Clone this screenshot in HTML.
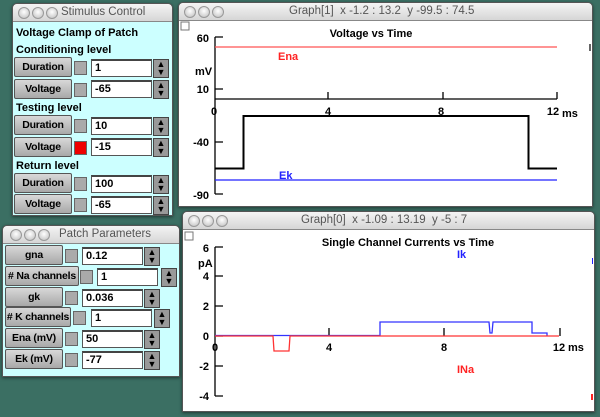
<!DOCTYPE html>
<html><head><meta charset="utf-8"><style>
body{margin:0;width:600px;height:417px;background:#3b6f63;position:relative;overflow:hidden;font-family:"Liberation Sans",sans-serif}
.win{position:absolute;background:#fff;border:1px solid #555;border-radius:5px 5px 0 0;box-shadow:0 1px 3px rgba(0,0,0,.5)}
.tb{position:absolute;left:0;right:0;top:0;height:17px;background:linear-gradient(#f4f4f4,#d6d6d6);border-bottom:1px solid #888;border-radius:5px 5px 0 0;font-size:11.5px;color:#555;line-height:17px;white-space:pre}
.dot{position:absolute;top:3px;width:10px;height:10px;border-radius:50%;background:radial-gradient(circle at 50% 40%,#fff,#bbb);border:1px solid #999}
.panel{position:absolute;left:0;right:0;bottom:0;background:#ccffff}
.a{position:absolute;font-size:11px;font-weight:bold;color:#000;white-space:nowrap}
.btn{position:absolute;height:18px;background:linear-gradient(#d8d8d8,#a8a8a8);border:1px solid #555;border-radius:2px;font-size:10.5px;font-weight:bold;text-align:center;line-height:18px;white-space:nowrap;overflow:hidden;letter-spacing:-0.2px}
.sq{position:absolute;width:11px;height:12px;background:#aaa;border:1px solid #666}
.fld{position:absolute;background:#fff;border:1px solid #555;border-top:2px solid #444;font-size:11px;font-weight:bold;line-height:15px;padding-left:3px;box-sizing:border-box;height:18px}
.sp{position:absolute;width:14px;height:17px;background:#999;border:1px solid #444;font-size:9px;text-align:center;line-height:8px}
</style></head><body>

<!-- Stimulus Control -->
<div class="win" style="left:12px;top:3px;width:159px;height:211px;">
<div class="tb"><span class="dot" style="left:5px"></span><span class="dot" style="left:19px"></span><span class="dot" style="left:33px"></span><span style="position:absolute;left:48px">Stimulus Control</span></div>
<div class="panel" style="top:18px">
<div class="a" style="left:3px;top:5px">Voltage Clamp of Patch</div>
<div class="a" style="left:3px;top:22px">Conditioning level</div>
<div class="a" style="left:3px;top:80px">Testing level</div>
<div class="a" style="left:3px;top:138px">Return level</div>
</div>
</div>

<!-- Patch Parameters -->
<div class="win" style="left:2px;top:225px;width:176px;height:150px;">
<div class="tb"><span class="dot" style="left:7px"></span><span class="dot" style="left:21px"></span><span class="dot" style="left:35px"></span><span style="position:absolute;left:56px">Patch Parameters</span></div>
<div class="panel" style="top:18px"></div>
</div>

<!-- Graph[1] -->
<div class="win" style="left:178px;top:2px;width:413px;height:203px;">
<div class="tb"><span class="dot" style="left:5px"></span><span class="dot" style="left:19px"></span><span class="dot" style="left:33px"></span><span style="position:absolute;left:110px">Graph[1]  x -1.2 : 13.2  y -99.5 : 74.5</span></div>
</div>
<!-- Graph[0] -->
<div class="win" style="left:182px;top:211px;width:411px;height:199px;">
<div class="tb"><span class="dot" style="left:5px"></span><span class="dot" style="left:19px"></span><span class="dot" style="left:33px"></span><span style="position:absolute;left:118px">Graph[0]  x -1.09 : 13.19  y -5 : 7</span></div>
</div>

<svg width="600" height="417" style="position:absolute;left:0;top:0" font-family="Liberation Sans,sans-serif" font-weight="bold" font-size="11">
<!-- Graph1 -->
<rect x="181" y="22" width="8" height="8" fill="#fff" stroke="#777"/>
<text x="371" y="37" text-anchor="middle">Voltage vs Time</text>
<g stroke="#000" stroke-width="1.3" fill="none">
<path d="M215,37 V194 M215,37 H223 M215,89 H223 M215,142 H223 M215,194 H223"/>
<path d="M215,99 H557 M328,92 V99 M443,92 V99 M557,92 V99"/>
</g>
<line x1="215" y1="47" x2="557" y2="47" stroke="#f55" stroke-width="1.3"/>
<line x1="215" y1="180" x2="557" y2="180" stroke="#22f" stroke-width="1.3"/>
<path d="M215,168.5 H243.5 V116 H528.5 V168.5 H557" stroke="#000" stroke-width="2" fill="none"/>
<g text-anchor="end"><text x="209" y="42">60</text><text x="209" y="93">10</text><text x="209" y="146">-40</text><text x="209" y="199">-90</text></g>
<text x="195" y="75">mV</text>
<g text-anchor="middle"><text x="214" y="115">0</text><text x="328" y="115">4</text><text x="441" y="115">8</text><text x="553" y="115">12</text></g>
<text x="562" y="117">ms</text>
<text x="278" y="60" fill="#f22">Ena</text>
<text x="279" y="179" fill="#22f">Ek</text>
<rect x="589" y="44" width="2" height="7" fill="#666"/>
<!-- Graph0 -->
<rect x="185" y="232" width="8" height="8" fill="#fff" stroke="#777"/>
<text x="408" y="246" text-anchor="middle">Single Channel Currents vs Time</text>
<g stroke="#000" stroke-width="1.3" fill="none">
<path d="M215,247 V396 M215,247 H223 M215,276 H223 M215,306 H223 M215,336 H223 M215,366 H223 M215,396 H223"/>
<path d="M329,328 V336 M444,328 V336 M560,328 V336"/>
</g>
<path d="M215,335.5 H380 V322 H489 L490,333 H492 L493,322 H532 V333 H547 V335.5" stroke="#33f" stroke-width="1.3" fill="none"/>
<path d="M215,336 H273 L274,351 H289 L290,336 H559" stroke="#f33" stroke-width="1.3" fill="none"/>
<g text-anchor="end"><text x="209" y="252">6</text><text x="209" y="280">4</text><text x="209" y="310">2</text><text x="209" y="340">0</text><text x="209" y="370">-2</text><text x="209" y="400">-4</text></g>
<text x="198" y="267">pA</text>
<g text-anchor="middle"><text x="215" y="351">0</text><text x="329" y="351">4</text><text x="444" y="351">8</text><text x="559" y="351">12</text></g>
<text x="568" y="351">ms</text>
<text x="457" y="258" fill="#22f">Ik</text>
<text x="457" y="373" fill="#f22">INa</text>
<rect x="592" y="258" width="1" height="6" fill="#22f"/>
<rect x="591" y="394" width="2" height="6" fill="#f22"/>
</svg>

<!-- Stimulus controls -->
<div class="btn" style="left:14px;top:57px;width:56px">Duration</div><div class="sq" style="left:74px;top:61px"></div><div class="fld" style="left:91px;top:59px;width:61px">1</div><div class="sp" style="left:153px;top:59px">▲<br>▼</div>
<div class="btn" style="left:14px;top:79px;width:56px">Voltage</div><div class="sq" style="left:74px;top:83px"></div><div class="fld" style="left:91px;top:80px;width:61px">-65</div><div class="sp" style="left:153px;top:80px">▲<br>▼</div>
<div class="btn" style="left:14px;top:115px;width:56px">Duration</div><div class="sq" style="left:74px;top:119px"></div><div class="fld" style="left:91px;top:117px;width:61px">10</div><div class="sp" style="left:153px;top:117px">▲<br>▼</div>
<div class="btn" style="left:14px;top:137px;width:56px">Voltage</div><div class="sq" style="left:74px;top:141px;background:#e00"></div><div class="fld" style="left:91px;top:138px;width:61px">-15</div><div class="sp" style="left:153px;top:138px">▲<br>▼</div>
<div class="btn" style="left:14px;top:173px;width:56px">Duration</div><div class="sq" style="left:74px;top:177px"></div><div class="fld" style="left:91px;top:175px;width:61px">100</div><div class="sp" style="left:153px;top:175px">▲<br>▼</div>
<div class="btn" style="left:14px;top:194px;width:56px">Voltage</div><div class="sq" style="left:74px;top:198px"></div><div class="fld" style="left:91px;top:196px;width:61px">-65</div><div class="sp" style="left:153px;top:196px">▲<br>▼</div>

<!-- Patch controls -->
<div class="btn" style="left:5px;top:245px;width:56px">gna</div><div class="sq" style="left:65px;top:249px"></div><div class="fld" style="left:82px;top:247px;width:61px">0.12</div><div class="sp" style="left:144px;top:247px">▲<br>▼</div>
<div class="btn" style="left:5px;top:266px;width:72px"># Na channels</div><div class="sq" style="left:80px;top:270px"></div><div class="fld" style="left:97px;top:268px;width:61px">1</div><div class="sp" style="left:161px;top:268px">▲<br>▼</div>
<div class="btn" style="left:5px;top:287px;width:56px">gk</div><div class="sq" style="left:65px;top:291px"></div><div class="fld" style="left:82px;top:289px;width:61px">0.036</div><div class="sp" style="left:144px;top:289px">▲<br>▼</div>
<div class="btn" style="left:5px;top:307px;width:64px"># K channels</div><div class="sq" style="left:73px;top:311px"></div><div class="fld" style="left:91px;top:309px;width:61px">1</div><div class="sp" style="left:154px;top:309px">▲<br>▼</div>
<div class="btn" style="left:5px;top:328px;width:56px">Ena (mV)</div><div class="sq" style="left:65px;top:332px"></div><div class="fld" style="left:82px;top:330px;width:61px">50</div><div class="sp" style="left:144px;top:330px">▲<br>▼</div>
<div class="btn" style="left:5px;top:349px;width:56px">Ek (mV)</div><div class="sq" style="left:65px;top:353px"></div><div class="fld" style="left:82px;top:351px;width:61px">-77</div><div class="sp" style="left:144px;top:351px">▲<br>▼</div>
</body></html>
